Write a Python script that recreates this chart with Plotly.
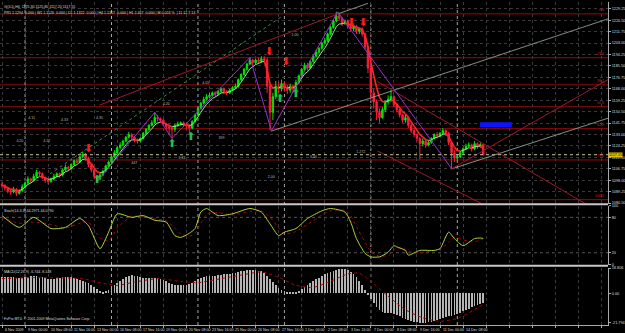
import plotly.graph_objects as go
import pandas as pd

# ---------------- data ----------------
bars = list(range(168))
first_open = 1095.0
closes = [1094,1092,1090,1089,1091,1088,1090,1093,1096,1099,
          1098,1101,1104,1103,1100,1098,1097,1099,1101,1103,
          1102,1106,1108,1107,1110,1113,1112,1116,1118,1115,
          1110,1106,1101,1099,1102,1105,1109,1112,1116,1119,
          1123,1125,1128,1131,1133,1131,1129,1128,1130,1134,
          1137,1140,1142,1146,1145,1144,1141,1139,1138,1137,
          1140,1141,1142,1141,1140,1138,1143,1148,1153,1157,
          1160,1162,1163,1165,1164,1166,1168,1166,1165,1167,
          1169,1170,1175,1179,1183,1187,1190,1188,1190,1189,
          1191,1190,1170,1150,1162,1170,1168,1172,1169,1167,
          1170,1168,1173,1178,1183,1186,1184,1189,1193,1196,
          1199,1203,1205,1210,1215,1220,1224,1222,1218,1220,
          1216,1214,1216,1212,1214,1210,1200,1184,1165,1158,
          1150,1146,1152,1158,1160,1162,1156,1152,1148,1144,
          1146,1140,1136,1133,1130,1126,1128,1125,1127,1130,
          1133,1132,1134,1136,1134,1127,1119,1115,1116,1119,
          1122,1124,1125,1122,1126,1124,1125.3,1117.55]
highs = [1097,1095,1093,1091,1093,1092,1091,1095,1097,1101,
         1100,1103,1106,1105,1104,1101,1099,1100,1103,1104,
         1104,1107,1110,1109,1111,1114,1115,1117,1120,1119,
         1116,1111,1107,1102,1104,1106,1110,1113,1117,1121,
         1124,1127,1129,1132,1135,1134,1132,1130,1131,1135,
         1138,1141,1144,1150,1148,1146,1145,1142,1140,1139,
         1141,1143,1143,1143,1142,1141,1144,1149,1154,1158,
         1162,1164,1165,1166,1166,1167,1169,1169,1167,1168,
         1170,1172,1176,1180,1184,1188,1192,1191,1191,1192,
         1193,1193,1192,1172,1165,1174,1173,1175,1174,1171,
         1172,1171,1175,1179,1184,1188,1188,1190,1194,1198,
         1200,1204,1207,1211,1216,1221,1227,1226,1223,1221,
         1221,1218,1217,1217,1215,1215,1211,1201,1186,1168,
         1160,1153,1154,1159,1163,1167,1163,1157,1153,1149,
         1148,1147,1141,1138,1134,1131,1130,1129,1129,1131,
         1134,1135,1135,1138,1137,1135,1128,1121,1118,1120,
         1123,1126,1127,1126,1128,1127,1127,1125.8]
lows = [1092,1090,1088,1087,1088,1086,1087,1089,1092,1095,
        1096,1097,1100,1101,1099,1096,1095,1096,1098,1100,
        1100,1101,1105,1105,1106,1109,1111,1111,1115,1113,
        1108,1104,1099,1097,1098,1101,1104,1108,1111,1115,
        1118,1122,1124,1127,1130,1129,1127,1126,1127,1129,
        1133,1136,1139,1141,1143,1142,1140,1137,1133,1130,
        1135,1139,1140,1139,1137,1134,1137,1142,1147,1152,
        1156,1159,1161,1162,1162,1163,1165,1164,1163,1164,
        1166,1168,1169,1174,1178,1182,1186,1186,1187,1187,
        1188,1188,1165,1136,1144,1160,1165,1166,1166,1164,
        1165,1165,1166,1172,1177,1182,1182,1183,1188,1192,
        1195,1198,1202,1204,1209,1214,1219,1220,1216,1217,
        1214,1212,1212,1210,1210,1208,1198,1180,1160,1153,
        1144,1142,1145,1150,1156,1158,1154,1150,1146,1142,
        1142,1138,1134,1131,1128,1114,1124,1123,1124,1126,
        1129,1130,1131,1133,1132,1125,1107,1112,1113,1115,
        1118,1121,1123,1120,1121,1122,1123,1117.2]

price_ticks = [1229.25,1220.50,1211.75,1203.00,1194.25,1185.50,1176.75,1168.00,1159.25,
               1150.50,1141.75,1133.00,1124.25,1115.50,1106.75,1098.00,1089.25,1080.50]

time_label_bars = [0,8,16,24,32,40,48,56,64,72,80,88,96,104,112,120,128,136,144,152,160]
time_labels = ["6 Nov 2009","9 Nov 00:00","10 Nov 08:00","11 Nov 16:00","13 Nov 00:00",
               "16 Nov 08:00","17 Nov 16:00","19 Nov 00:00","20 Nov 08:00","23 Nov 16:00",
               "25 Nov 00:00","26 Nov 08:00","27 Nov 16:00","1 Dec 00:00","2 Dec 08:00",
               "3 Dec 16:00","7 Dec 00:00","8 Dec 08:00","9 Dec 16:00","11 Dec 00:00","14 Dec 08:00"]
grid_bars = [0,8,16,24,32,40,48,56,64,72,80,88,96,104,112,120,128,136,144,152,160,168,176,184,192,200,208]
week_sep_bars = [8,38,68,98,128,158]

fib_high = 1225.4
fib_low = 1083.1
fib_ratios = [0.0, 23.6, 38.2, 50.0, 61.8, 78.6, 100.0]

sell_bars = [30, 92.7, 98.6, 121.2, 125.3]
sell_prices = [1121.5, 1196.0, 1188.5, 1218.0, 1218.0]
buy_bars = [33, 59, 65.5, 96.5, 102]
buy_prices = [1098.0, 1125.4, 1130.8, 1159.7, 1163.5]

zigzag_bars = [33, 53, 59, 86, 93.5, 116.5, 156]
zigzag_prices = [1097.0, 1150.0, 1130.0, 1192.0, 1136.0, 1227.0, 1107.0]

green_dotted_bars = [16.6, 96.9]
green_dotted_prices = [1102.8, 1223.1]
red_up_bars = [33.8, 116.6]
red_up_prices = [1155.5, 1225.4]
pale1_bars = [93.4, 210.3]
pale1_prices = [1135.6, 1221.6]
pale2_bars = [155.9, 210.3]
pale2_prices = [1106.6, 1145.5]
pale3_bars = [116.6, 127.0]
pale3_prices = [1225.4, 1233.5]
red_rise_bars = [155.9, 210.3]
red_rise_prices = [1106.6, 1175.1]
red_down1_bars = [130.3, 204.0]
red_down1_prices = [1173.6, 1078.0]
red_down2_bars = [130.3, 172.0]
red_down2_prices = [1120.4, 1074.0]

box_bars = [165.9, 176.9]
box_prices = [1138.6, 1142.4]

note_bars = [10.3, 21.7, 33.8, 6.2, 15.5, 57.0, 45.9, 62.4, 76.2, 124.5, 108.0, 93.4, 101.7, 70.7]
note_prices = [1145.5, 1143.9, 1145.5, 1128.0, 1128.0, 1156.1, 1111.2, 1115.0, 1130.2, 1119.6, 1115.8, 1100.6, 1209.4, 1172.1]
note_texts = ["4.11","4.33","4.35","4.20","4.12","4.20","447","3.33","399","1.272","3.44","2.00","1.00","4.05"]

stoch_bars = [0,6,11,17,22,27,30,34,37,40,45,49,53,57,60,62,65,67,69,71,75,80,86,90,93,96,98,102,106,111,
              114,119,121,123,126,128,131,134,136,137,140,141,145,150,152,155,157,160,164,166,167]
stoch_main = [83,63,80,61,63,78,66,27,55,86,80,83,75,72,49,46,53,61,89,95,83,86,95,89,69,49,55,61,78,91,
              95,89,72,44,19,13,13,21,32,30,24,16,24,24,27,55,44,32,44,45,44.3]
stoch_signal = [80,70,72,68,62,70,72,45,40,62,82,81,78,74,62,52,48,53,70,85,88,84,90,91,80,62,52,56,68,84,
                91,92,83,64,38,22,14,16,24,28,26,22,20,24,25,38,46,42,38,42,44.1]

macd_hist = [12.0,12.3,12.5,12.4,12.1,11.8,11.5,11.6,12.0,12.4,12.8,13.0,12.8,12.4,11.9,11.4,11.0,10.8,10.9,11.2,11.6,12.0,12.3,12.4,
             12.2,11.8,11.0,10.2,9.5,8.6,7.4,6.0,4.6,3.2,
             2.0,1.4,1.5,2.6,
             4.2,6.0,7.8,9.4,10.8,12.0,12.9,13.4,
             13.2,12.6,12.0,11.6,11.4,11.4,11.5,11.5,11.2,10.6,
             9.8,8.9,8.0,7.2,6.6,6.2,6.0,6.1,6.4,7.0,
             8.0,9.2,10.4,11.5,12.3,12.8,13.0,13.1,
             13.3,13.6,13.9,14.2,14.5,14.7,15.0,15.4,15.8,16.3,16.8,17.2,
             17.5,17.6,17.4,17.0,16.4,15.4,
             13.0,10.4,8.2,6.0,4.2,2.8,
             1.8,1.2,0.9,1.0,1.4,2.2,
             3.4,4.8,6.2,7.6,9.0,10.4,11.8,13.0,14.2,15.2,16.0,16.8,17.4,
             17.8,18.0,17.8,17.2,16.0,
             14.4,12.2,9.6,6.4,2.8,-0.8,
             -4.2,-7.4,-10.0,-12.0,-13.4,-14.2,-14.6,-14.6,-15.2,-16.0,
             -17.0,-18.0,-18.8,-19.6,-20.2,-20.8,-21.3,-21.6,-21.7,-21.6,-21.4,-21.0,-20.5,
             -19.8,-19.0,-18.2,-17.2,-16.6,-16.4,-16.0,-15.2,-14.2,-13.2,-12.2,-11.2,-10.2,-9.4,-8.6,-7.8,-6.7]
macd_sig_bars = [0,10,20,28,34,40,46,54,62,68,76,84,90,96,102,108,114,120,124,128,134,140,146,152,158,164,167]
macd_sig = [11.0,11.8,11.6,11.0,8.0,6.0,8.5,11.0,9.0,8.0,11.0,14.0,16.0,12.0,6.0,4.5,9.0,14.5,15.0,9.0,
            -2.0,-12.0,-18.0,-20.5,-18.5,-12.0,-8.1]

# ---------------- geometry helpers (pixels -> paper) ----------------
H_PLOT = 325.0
def py(ypx):
    return (H_PLOT - ypx) / H_PLOT

opens = [first_open] + closes[:-1]
ma = pd.Series(closes).ewm(span=5, adjust=False).mean().tolist()

UP = '#00e600'
DN = '#ff1e3c'
TXT = '#dcdcdc'
FONT = 'Liberation Sans'

fig = go.Figure()

# candles
fig.add_trace(go.Candlestick(
    x=bars, open=opens, high=highs, low=lows, close=closes,
    increasing=dict(line=dict(color=UP, width=1), fillcolor=UP),
    decreasing=dict(line=dict(color=DN, width=1), fillcolor=DN),
    whiskerwidth=0, hoverinfo='skip', showlegend=False, xaxis='x', yaxis='y'))

# coloured moving average
gx, gy, rx, ry = [], [], [], []
for i in range(1, len(ma)):
    if ma[i] >= ma[i - 1]:
        gx += [bars[i - 1], bars[i], None]; gy += [ma[i - 1], ma[i], None]
    else:
        rx += [bars[i - 1], bars[i], None]; ry += [ma[i - 1], ma[i], None]
fig.add_trace(go.Scatter(x=gx, y=gy, mode='lines', line=dict(color='#8cf08c', width=1),
                         hoverinfo='skip', showlegend=False, xaxis='x', yaxis='y'))
fig.add_trace(go.Scatter(x=rx, y=ry, mode='lines', line=dict(color='#ff2626', width=1.6),
                         hoverinfo='skip', showlegend=False, xaxis='x', yaxis='y'))

def add_line(xs, ys, color, width=1, dash='solid'):
    fig.add_trace(go.Scatter(x=xs, y=ys, mode='lines', line=dict(color=color, width=width, dash=dash),
                             hoverinfo='skip', showlegend=False, xaxis='x', yaxis='y'))

add_line(green_dotted_bars, green_dotted_prices, '#3c8a3c', 1, 'dot')
add_line(red_up_bars, red_up_prices, '#a01828', 1)
add_line(pale1_bars, pale1_prices, '#9fb89f', 0.8)
add_line(pale2_bars, pale2_prices, '#9fb89f', 0.8)
add_line(pale3_bars, pale3_prices, '#9fb89f', 0.8)
add_line(red_rise_bars, red_rise_prices, '#a01828', 1)
add_line(red_down1_bars, red_down1_prices, '#a01828', 1)
add_line(red_down2_bars, red_down2_prices, '#a01828', 1)
add_line(zigzag_bars, zigzag_prices, '#9932cc', 1)

# notes
fig.add_trace(go.Scatter(x=note_bars, y=note_prices, mode='text', text=note_texts,
                         textfont=dict(family=FONT, size=3.6, color='#b8b8b8'),
                         hoverinfo='skip', showlegend=False, xaxis='x', yaxis='y'))
# arrows
fig.add_trace(go.Scatter(x=sell_bars, y=sell_prices, mode='text', text=['⬇'] * len(sell_bars),
                         textfont=dict(family='DejaVu Sans', size=11, color='#ff1a1a'),
                         hoverinfo='skip', showlegend=False, xaxis='x', yaxis='y'))
fig.add_trace(go.Scatter(x=buy_bars, y=buy_prices, mode='text', text=['⬆'] * len(buy_bars),
                         textfont=dict(family='DejaVu Sans', size=11, color='#1fbf4f'),
                         hoverinfo='skip', showlegend=False, xaxis='x', yaxis='y'))

# stochastic
fig.add_trace(go.Scatter(x=stoch_bars, y=stoch_signal, mode='lines',
                         line=dict(color='#b00000', width=1, dash='dot', shape='spline', smoothing=0.6),
                         hoverinfo='skip', showlegend=False, xaxis='x2', yaxis='y2'))
fig.add_trace(go.Scatter(x=stoch_bars, y=stoch_main, mode='lines',
                         line=dict(color='#b4d23c', width=1, shape='spline', smoothing=0.6),
                         hoverinfo='skip', showlegend=False, xaxis='x2', yaxis='y2'))

# MACD
fig.add_trace(go.Bar(x=bars, y=macd_hist, width=0.25, marker=dict(color='#b4b4b4', line=dict(width=0)),
                     hoverinfo='skip', showlegend=False, xaxis='x3', yaxis='y3'))
fig.add_trace(go.Scatter(x=macd_sig_bars, y=macd_sig, mode='lines',
                         line=dict(color='#b00000', width=1, dash='dot', shape='spline', smoothing=0.6),
                         hoverinfo='skip', showlegend=False, xaxis='x3', yaxis='y3'))

shapes = []
annotations = []

# fib levels
for r in fib_ratios:
    lvl = fib_high - r / 100.0 * (fib_high - fib_low)
    shapes.append(dict(type='line', xref='paper', x0=0, x1=1, yref='y', y0=lvl, y1=lvl,
                       line=dict(color='#9a0a0a', width=1), layer='below'))
    annotations.append(dict(xref='paper', x=0.997, yref='y', y=lvl, text=f"{r:.1f}", showarrow=False,
                            xanchor='right', yanchor='bottom', font=dict(family=FONT, size=3.6, color='#d02020')))

# current price line
last = closes[-1]
shapes.append(dict(type='line', xref='paper', x0=0, x1=1, yref='y', y0=last, y1=last,
                   line=dict(color='#c8c89a', width=1, dash='dot')))
# blue box
shapes.append(dict(type='rect', xref='x', x0=box_bars[0], x1=box_bars[1], yref='y',
                   y0=box_prices[0], y1=box_prices[1], fillcolor='#0a14ff', line=dict(width=0)))
# week separators
for b in week_sep_bars:
    shapes.append(dict(type='line', xref='x', x0=b, x1=b, yref='paper', y0=0, y1=1,
                       line=dict(color='#a8a8a8', width=1, dash='dot'), layer='below'))
# stochastic levels
for lv in [20, 80]:
    shapes.append(dict(type='line', xref='paper', x0=0, x1=1, yref='y2', y0=lv, y1=lv,
                       line=dict(color='#555555', width=1, dash='dot'), layer='below'))
# pane separators
for ypx in [203.5, 265.5]:
    shapes.append(dict(type='line', xref='paper', x0=0, x1=1, yref='paper', y0=py(ypx), y1=py(ypx),
                       line=dict(color='#c8c8c8', width=2)))

# texts
def ptext(xpx, ypx, text, size=3.6, color=TXT):
    annotations.append(dict(xref='paper', x=xpx / 612.0, yref='paper', y=py(ypx), text=text,
                            showarrow=False, xanchor='left', yanchor='top',
                            font=dict(family=FONT, size=size, color=color)))

ptext(2, 1, "GOLD,H4  1125.30 1125.80 1117.20 1117.55")
ptext(2, 7.5, "PR1 1.1294  0.000 | W1 1.1126  0.000 | D1 1.1322  0.000 | H4 1.1317  0.000 | H1 2.467  0.000 | M 0.024 %  | 11 12 7 13")
ptext(2, 206, "Stoch(14,3,3) 44.2971 44.0790")
ptext(2, 268, "MACD(12,26,9) -6.744 -8.148")
ptext(2, 315, "FxPro MT4, © 2001-2009 MetaQuotes Software Corp.")

# bid label
annotations.append(dict(xref='paper', x=1.0, yref='y', y=last, text=f"{last:.2f}", showarrow=False,
                        xanchor='left', yanchor='middle', bgcolor='#e8c000', borderpad=0,
                        font=dict(family=FONT, size=3.8, color='black')))

# time labels
for b, t in zip(time_label_bars, time_labels):
    annotations.append(dict(xref='x3', x=b + 0.3, yref='paper', y=0, text=t, showarrow=False,
                            xanchor='left', yanchor='top', yshift=-1,
                            font=dict(family=FONT, size=3.6, color=TXT)))

xcommon = dict(range=[-0.7, 210.3], showticklabels=False, tickvals=grid_bars, showgrid=True,
               gridcolor='#3a3a3a', griddash='dot', gridwidth=1, zeroline=False, showline=False)

fig.update_layout(
    width=625, height=333, margin=dict(l=0, r=13, t=0, b=8),
    paper_bgcolor='black', plot_bgcolor='black', showlegend=False, bargap=0,
    font=dict(family=FONT, size=4, color=TXT),
    xaxis=dict(xcommon, anchor='y', rangeslider=dict(visible=False)),
    xaxis2=dict(xcommon, anchor='y2', matches='x'),
    xaxis3=dict(xcommon, anchor='y3', matches='x', ticks='outside', ticklen=2, tickcolor='#aaaaaa',
                showline=True, linecolor='#aaaaaa', linewidth=1),
    yaxis=dict(domain=[py(203), 1], range=[1080.0, 1234.5], side='right', anchor='x',
               tickvals=price_ticks, ticktext=[f"{v:.2f}" for v in price_ticks],
               tickfont=dict(family=FONT, size=3.8, color=TXT), showgrid=True, gridcolor='#3a3a3a',
               griddash='dot', ticks='outside', ticklen=2, tickcolor='#aaaaaa',
               showline=True, linecolor='#aaaaaa', zeroline=False),
    yaxis2=dict(domain=[py(264.2), py(204.8)], range=[0, 100], side='right', anchor='x2',
                tickvals=[0, 20, 80, 100], ticktext=['0', '20', '80', '100'],
                tickfont=dict(family=FONT, size=3.8, color=TXT), showgrid=False,
                ticks='outside', ticklen=2, tickcolor='#aaaaaa',
                showline=True, linecolor='#aaaaaa', zeroline=False),
    yaxis3=dict(domain=[0, py(267.7)], range=[-23.3, 18.85], side='right', anchor='x3',
                tickvals=[18.806, 0, -21.794], ticktext=['18.806', '0.00', '-21.794'],
                tickfont=dict(family=FONT, size=3.8, color=TXT), showgrid=False,
                ticks='outside', ticklen=2, tickcolor='#aaaaaa',
                showline=True, linecolor='#aaaaaa', zeroline=False),
    shapes=shapes, annotations=annotations,
)

fig.write_html("out.html")
